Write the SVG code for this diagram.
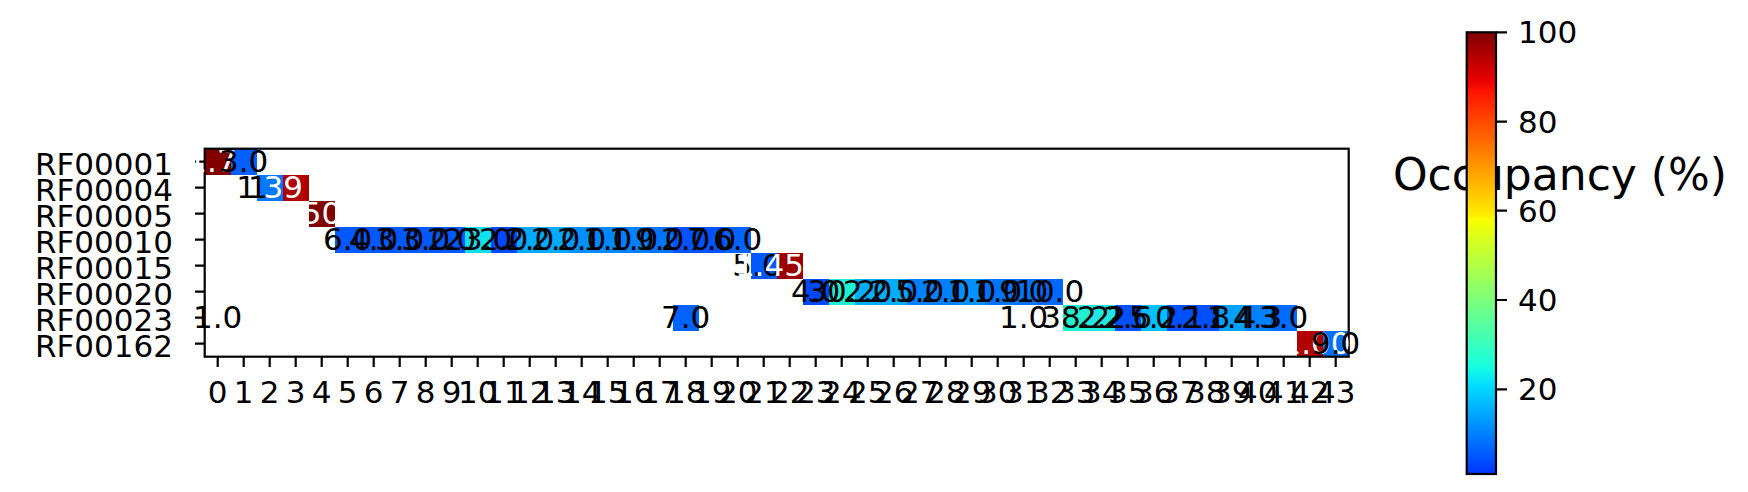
<svg xmlns="http://www.w3.org/2000/svg" width="1748" height="492" viewBox="0 0 1748 492">
<style>
text{font-family:"DejaVu Sans","Liberation Sans",sans-serif}
.an{font-size:31px;text-anchor:middle}
.w{fill:#ffffff}
.k{fill:#000000}
.tl{font-size:31px;fill:#000}
.xt{text-anchor:middle}
.yt{text-anchor:end}
.tick{stroke:#000;stroke-width:2.2}
</style>
<defs>
<linearGradient id="jet" x1="0" y1="1" x2="0" y2="0">
<stop offset="0" stop-color="#0034ff"/>
<stop offset="0.199" stop-color="#00dbff"/>
<stop offset="0.2415" stop-color="#15ffe2"/>
<stop offset="0.563" stop-color="#eeff08"/>
<stop offset="0.575" stop-color="#f7ff00"/>
<stop offset="0.587" stop-color="#ffec00"/>
<stop offset="0.8665" stop-color="#ff1300"/>
<stop offset="0.891" stop-color="#e80000"/>
<stop offset="1" stop-color="#800000"/>
</linearGradient>
</defs>
<rect width="1748" height="492" fill="#fff"/>

<!-- cells -->
<g id="cells" shape-rendering="crispEdges">
<g id="row-RF00001">
<rect x="204.7" y="148.7" width="26.3" height="26.3" fill="#800000"/>
<rect x="230.7" y="148.7" width="26.3" height="26.3" fill="#0060ff"/>
</g>
<g id="row-RF00004">
<rect x="256.7" y="174.7" width="26.3" height="26.3" fill="#0078ff"/>
<rect x="282.7" y="174.7" width="26.3" height="26.3" fill="#b00000"/>
</g>
<g id="row-RF00005">
<rect x="308.7" y="200.7" width="26.3" height="26.3" fill="#800000"/>
</g>
<g id="row-RF00010">
<rect x="334.7" y="226.7" width="130.3" height="26.3" fill="#0058ff"/>
<rect x="464.7" y="226.7" width="26.3" height="26.3" fill="#10e0ea"/>
<rect x="490.7" y="226.7" width="26.3" height="26.3" fill="#0048ff"/>
<rect x="516.7" y="226.7" width="52.3" height="26.3" fill="#00aaff"/>
<rect x="568.7" y="226.7" width="26.3" height="26.3" fill="#0090ff"/>
<rect x="594.7" y="226.7" width="26.3" height="26.3" fill="#0088ff"/>
<rect x="620.7" y="226.7" width="26.3" height="26.3" fill="#0080ff"/>
<rect x="646.7" y="226.7" width="26.3" height="26.3" fill="#0074ff"/>
<rect x="672.7" y="226.7" width="52.3" height="26.3" fill="#0052ff"/>
<rect x="724.7" y="226.7" width="26.3" height="26.3" fill="#0062ff"/>
</g>
<g id="row-RF00015">
<rect x="750.7" y="252.7" width="26.3" height="26.3" fill="#0058ff"/>
<rect x="776.7" y="252.7" width="26.3" height="26.3" fill="#9a0000"/>
</g>
<g id="row-RF00020">
<rect x="802.7" y="278.7" width="26.3" height="26.3" fill="#0048ff"/>
<rect x="828.7" y="278.7" width="26.3" height="26.3" fill="#20f0d0"/>
<rect x="854.7" y="278.7" width="52.3" height="26.3" fill="#00aeff"/>
<rect x="906.7" y="278.7" width="52.3" height="26.3" fill="#0080ff"/>
<rect x="958.7" y="278.7" width="26.3" height="26.3" fill="#0090ff"/>
<rect x="984.7" y="278.7" width="52.3" height="26.3" fill="#0074ff"/>
<rect x="1036.7" y="278.7" width="26.3" height="26.3" fill="#0068ff"/>
</g>
<g id="row-RF00023">
<rect x="672.7" y="304.7" width="26.3" height="26.3" fill="#0062ff"/>
<rect x="1062.7" y="304.7" width="26.3" height="26.3" fill="#20f0d0"/>
<rect x="1088.7" y="304.7" width="26.3" height="26.3" fill="#22e6e2"/>
<rect x="1114.7" y="304.7" width="26.3" height="26.3" fill="#0050ff"/>
<rect x="1140.7" y="304.7" width="26.3" height="26.3" fill="#00c0ff"/>
<rect x="1166.7" y="304.7" width="52.3" height="26.3" fill="#0050ff"/>
<rect x="1218.7" y="304.7" width="26.3" height="26.3" fill="#00a0ff"/>
<rect x="1244.7" y="304.7" width="26.3" height="26.3" fill="#0082ff"/>
<rect x="1270.7" y="304.7" width="26.3" height="26.3" fill="#006cff"/>
</g>
<g id="row-RF00162">
<rect x="1296.7" y="330.7" width="26.3" height="26.3" fill="#b00000"/>
<rect x="1322.7" y="330.7" width="26" height="26" fill="#0070ff"/>
</g>
</g>

<!-- ticks -->
<g id="ticks">
<path class="tick" d="M195 161.7H204.7M195 187.7H204.7M195 213.7H204.7M195 239.7H204.7M195 265.7H204.7M195 291.7H204.7M195 317.7H204.7M195 343.7H204.7"/>
<path class="tick" d="M217.7 356.7V367M243.7 356.7V367M269.7 356.7V367M295.7 356.7V367M321.7 356.7V367M347.7 356.7V367M373.7 356.7V367M399.7 356.7V367M425.7 356.7V367M451.7 356.7V367M477.7 356.7V367M503.7 356.7V367M529.7 356.7V367M555.7 356.7V367M581.7 356.7V367M607.7 356.7V367M633.7 356.7V367M659.7 356.7V367M685.7 356.7V367M711.7 356.7V367M737.7 356.7V367M763.7 356.7V367M789.7 356.7V367M815.7 356.7V367M841.7 356.7V367M867.7 356.7V367M893.7 356.7V367M919.7 356.7V367M945.7 356.7V367M971.7 356.7V367M997.7 356.7V367M1023.7 356.7V367M1049.7 356.7V367M1075.7 356.7V367M1101.7 356.7V367M1127.7 356.7V367M1153.7 356.7V367M1179.7 356.7V367M1205.7 356.7V367M1231.7 356.7V367M1257.7 356.7V367M1283.7 356.7V367M1309.7 356.7V367M1335.7 356.7V367"/>
</g>

<!-- axes frame -->
<rect id="frame" x="204.7" y="148.7" width="1144" height="208" fill="none" stroke="#000" stroke-width="2.2"/>

<!-- y tick labels -->
<g id="ylabels" class="tl yt">
<text x="173" y="175">RF00001</text>
<text x="173" y="201">RF00004</text>
<text x="173" y="227">RF00005</text>
<text x="173" y="253">RF00010</text>
<text x="173" y="279">RF00015</text>
<text x="173" y="305">RF00020</text>
<text x="173" y="331">RF00023</text>
<text x="173" y="357">RF00162</text>
</g>

<!-- x tick labels -->
<g id="xlabels" class="tl xt">
<text x="217.7" y="403.3">0</text><text x="243.7" y="403.3">1</text><text x="269.7" y="403.3">2</text><text x="295.7" y="403.3">3</text><text x="321.7" y="403.3">4</text><text x="347.7" y="403.3">5</text><text x="373.7" y="403.3">6</text><text x="399.7" y="403.3">7</text><text x="425.7" y="403.3">8</text><text x="451.7" y="403.3">9</text>
<text x="477.7" y="403.3">10</text><text x="503.7" y="403.3">11</text><text x="529.7" y="403.3">12</text><text x="555.7" y="403.3">13</text><text x="581.7" y="403.3">14</text><text x="607.7" y="403.3">15</text><text x="633.7" y="403.3">16</text><text x="659.7" y="403.3">17</text><text x="685.7" y="403.3">18</text><text x="711.7" y="403.3">19</text>
<text x="737.7" y="403.3">20</text><text x="763.7" y="403.3">21</text><text x="789.7" y="403.3">22</text><text x="815.7" y="403.3">23</text><text x="841.7" y="403.3">24</text><text x="867.7" y="403.3">25</text><text x="893.7" y="403.3">26</text><text x="919.7" y="403.3">27</text><text x="945.7" y="403.3">28</text><text x="971.7" y="403.3">29</text>
<text x="997.7" y="403.3">30</text><text x="1023.7" y="403.3">31</text><text x="1049.7" y="403.3">32</text><text x="1075.7" y="403.3">33</text><text x="1101.7" y="403.3">34</text><text x="1127.7" y="403.3">35</text><text x="1153.7" y="403.3">36</text><text x="1179.7" y="403.3">37</text><text x="1205.7" y="403.3">38</text><text x="1231.7" y="403.3">39</text>
<text x="1257.7" y="403.3">40</text><text x="1283.7" y="403.3">41</text><text x="1309.7" y="403.3">42</text><text x="1335.7" y="403.3">43</text>
</g>

<!-- annotations -->
<g id="annotations" class="an">
<text class="w" x="212" y="172.2">1.7</text>
<text class="k" x="243.7" y="172.2">3.0</text>

<text class="w" x="268.4" y="198.2">1.39</text>
<text class="k" x="248" y="198.2" letter-spacing="-8">11</text>

<text class="w" x="321.5" y="224.2">50</text>

<text class="k" x="347.7" y="250.2">6.0</text>
<text class="k" x="373.7" y="250.2">4.0</text>
<text class="k" x="399.7" y="250.2">3.0</text>
<text class="k" x="425.7" y="250.2">3.0</text>
<text class="k" x="451.7" y="250.2">2.0</text>
<text class="k" x="477.7" y="250.2">23.0</text>
<text class="k" x="503.7" y="250.2">2.0</text>
<text class="k" x="529.7" y="250.2">2.0</text>
<text class="k" x="555.7" y="250.2">2.0</text>
<text class="k" x="581.7" y="250.2">2.0</text>
<text class="k" x="607.7" y="250.2">1.0</text>
<text class="k" x="633.7" y="250.2">1.0</text>
<text class="k" x="659.7" y="250.2">9.0</text>
<text class="k" x="685.7" y="250.2">2.0</text>
<text class="k" x="711.7" y="250.2">7.0</text>
<text class="k" x="737.7" y="250.2">6.0</text>

<text class="k" x="757" y="276.2">5.0</text>
<text class="w" x="769.4" y="276.2">1.45</text>

<text class="k" x="815.7" y="302.2">4.0</text>
<text class="k" x="841.7" y="302.2">30.2</text>
<text class="k" x="867.7" y="302.2">2.0</text>
<text class="k" x="893.7" y="302.2">2.0</text>
<text class="k" x="919.7" y="302.2">5.0</text>
<text class="k" x="945.7" y="302.2">2.0</text>
<text class="k" x="971.7" y="302.2">1.0</text>
<text class="k" x="997.7" y="302.2">1.0</text>
<text class="k" x="1023.7" y="302.2">9.0</text>
<text class="k" x="1049.7" y="302.2">10.0</text>

<text class="k" x="217.7" y="328.2">1.0</text>
<text class="k" x="685.7" y="328.2">7.0</text>
<text class="k" x="1023.7" y="328.2">1.0</text>
<text class="k" x="1075.7" y="328.2">38.2</text>
<text class="k" x="1101.7" y="328.2">2.2</text>
<text class="k" x="1127.7" y="328.2">2.6</text>
<text class="k" x="1153.7" y="328.2">5.2</text>
<text class="k" x="1179.7" y="328.2">0.1</text>
<text class="k" x="1205.7" y="328.2">2.8</text>
<text class="k" x="1231.7" y="328.2">1.4</text>
<text class="k" x="1257.7" y="328.2">4.3</text>
<text class="k" x="1283.7" y="328.2">3.0</text>

<text class="w" x="1316" y="354.2">1.00</text>
<text class="k" x="1335.7" y="354.2">9.0</text>
</g>

<!-- colorbar -->
<g id="colorbar">
<text x="1560" y="190" font-size="44" text-anchor="middle" fill="#000">Occupancy (%)</text>
<rect x="1466.7" y="32.3" width="29.3" height="441.7" fill="url(#jet)" stroke="#000" stroke-width="2.2"/>
<path class="tick" d="M1496 32.3H1507M1496 121.7H1507M1496 210.7H1507M1496 300H1507M1496 389.3H1507"/>
<g class="tl">
<text x="1518" y="43.3">100</text>
<text x="1518" y="132.7">80</text>
<text x="1518" y="221.7">60</text>
<text x="1518" y="311">40</text>
<text x="1518" y="400.3">20</text>
</g>
</g>
</svg>
